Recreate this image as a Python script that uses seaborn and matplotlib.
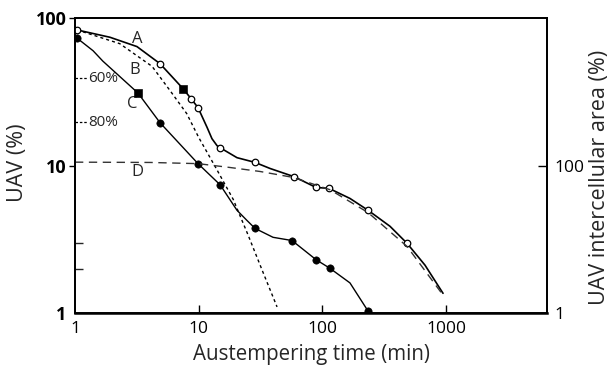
import matplotlib
matplotlib.use("Agg")
import matplotlib.pyplot as plt
import matplotlib.ticker as mticker
import seaborn as sns
import pandas as pd

sns.set_theme(style="ticks")
plt.rcParams["font.family"] = ["Open Sans", "DejaVu Sans"]

# curve A (open circles), smooth path
a_path_x = [1.04, 1.92, 3.17, 4.87, 7.47, 8.67, 9.87, 11.7, 12.8, 14.1, 14.9, 20.4, 28.5, 37.7,
            59, 88.8, 113, 167, 234, 352, 483, 675, 944]
a_path_y = [83, 74, 64, 49, 33.2, 28.4, 24.7, 18.1, 15.2, 13.6, 13.2, 11.3, 10.5, 9.55,
            8.4, 7.1, 7.0, 5.98, 4.97, 3.87, 2.97, 2.11, 1.36]
a_pts_x = [1.04, 4.87, 8.67, 9.87, 14.9, 28.5, 59, 88.8, 113, 234, 483]
a_pts_y = [83, 49, 28.4, 24.7, 13.2, 10.5, 8.4, 7.1, 7.0, 4.97, 2.97]

# curve B (short dashes)
b_x = [1.04, 2.3, 4.2, 5.9, 8.0, 10, 14, 19, 25, 33, 43]
b_y = [83, 67, 47, 32, 22.5, 15.5, 9.4, 5.9, 3.4, 1.9, 1.1]

# curve C (filled circles)
c_path_x = [1.04, 1.40, 1.68, 3.23, 4.87, 9.87, 14.9, 20.4, 24.5, 28.5, 39.9, 56.8, 88.8, 115, 167, 234]
c_path_y = [73, 60, 51, 31, 19.5, 10.3, 7.4, 4.97, 4.25, 3.75, 3.26, 3.1, 2.3, 2.01, 1.6, 1.03]
c_pts_x = [1.04, 4.87, 9.87, 14.9, 28.5, 56.8, 88.8, 115, 234]
c_pts_y = [73, 19.5, 10.3, 7.4, 3.75, 3.1, 2.3, 2.01, 1.03]

# filled squares (on A and C)
sq_x = [7.5, 3.23]
sq_y = [33, 31]

# curve D, right axis (intercellular area %)
d_x = [1, 4.04, 9.87, 17.9, 31.3, 57.9, 115, 234, 483, 944]
d_y = [111, 110, 106, 94, 83, 69, 47, 23, 8.0, 1.75]

# reduction marks on the left axis
red_levels = [39, 19.6]
red_labels = ["60%", "80%"]

curve_names = ["A", "B", "C", "D"]
curve_lx = [3.17, 3.06, 2.89, 3.17]
curve_ly = [72, 44.5, 26.2, 9.1]

fig, ax = plt.subplots(figsize=(6.11, 3.71), dpi=100)
fig.subplots_adjust(left=0.1227, right=0.8953, bottom=0.1563, top=0.9515)
ax2 = ax.twinx()

ax.set_xscale("log")
ax.set_yscale("log")
ax2.set_yscale("log")

sns.lineplot(x=a_path_x, y=a_path_y, sort=False, color="black", lw=1.2, ax=ax)
sns.lineplot(x=b_x, y=b_y, sort=False, color="black", lw=1.0, ax=ax, linestyle=(0, (2.2, 2.2)))
sns.lineplot(x=c_path_x, y=c_path_y, sort=False, color="black", lw=1.0, ax=ax)
sns.scatterplot(x=a_pts_x, y=a_pts_y, marker="o", s=22, facecolor="white",
                edgecolor="black", linewidth=0.9, ax=ax, zorder=5)
sns.scatterplot(x=c_pts_x, y=c_pts_y, marker="o", s=28, color="black",
                edgecolor="black", ax=ax, zorder=5)
sns.scatterplot(x=sq_x, y=sq_y, marker="s", s=32, color="black",
                edgecolor="black", ax=ax, zorder=5)

sns.lineplot(x=d_x, y=d_y, sort=False, color="#333333", lw=1.0, ax=ax2, linestyle=(0, (6, 4)))

ax.hlines(red_levels, 1, 1.27, colors="black", lw=0.9, linestyles=(0, (2, 1.5)))
for lv, lb in zip(red_levels, red_labels):
    ax.text(1.28, lv, lb, ha="left", va="center", fontsize=11)

for nm, lx, ly in zip(curve_names, curve_lx, curve_ly):
    ax.text(lx, ly, nm, ha="center", va="center", fontsize=12)

ax.set_xlim(1, 6540)
ax.set_ylim(1, 100)
ax2.set_ylim(1, 10000)

ax.xaxis.set_major_locator(mticker.FixedLocator([1, 10, 100, 1000]))
ax.xaxis.set_minor_locator(mticker.NullLocator())
ax.set_xticklabels(["1", "10", "100", "1000"])
ax.yaxis.set_major_locator(mticker.FixedLocator([1, 10, 100]))
ax.yaxis.set_minor_locator(mticker.FixedLocator([2, 3]))
ax.yaxis.set_minor_formatter(mticker.NullFormatter())
ax.set_yticklabels(["1", "10", "100"], fontweight="bold")
ax2.yaxis.set_major_locator(mticker.FixedLocator([1, 100]))
ax2.yaxis.set_minor_locator(mticker.NullLocator())
ax2.set_yticklabels(["1", "100"])

ax.tick_params(axis="x", which="major", direction="in", length=6, width=1.0,
               labelsize=12.5, pad=6, colors="black")
ax.tick_params(axis="y", which="major", direction="out", length=4, width=1.0,
               labelsize=13, pad=2, colors="black")
ax.tick_params(axis="y", which="minor", direction="in", length=6, width=1.0)
ax2.tick_params(axis="y", which="major", direction="in", length=6.5, width=1.0,
                labelsize=12.5, pad=5, colors="black")
ax.xaxis.get_major_ticks()[0].tick1line.set_visible(False)
ax.yaxis.get_major_ticks()[0].tick1line.set_visible(False)
ax2.yaxis.get_major_ticks()[0].tick2line.set_visible(False)

for a in (ax, ax2):
    for sp in a.spines.values():
        sp.set_visible(True)
        sp.set_color("black")
        sp.set_linewidth(1.3)
ax.spines["bottom"].set_linewidth(1.8)

ax.set_xlabel("Austempering time (min)", fontsize=14.8, labelpad=5)
ax.set_ylabel("UAV (%)", fontsize=15.5)
ax.yaxis.set_label_coords(-0.10, 0.51)
ax2.set_ylabel("UAV intercellular area (%)", fontsize=15.5, rotation=90)
ax2.yaxis.set_label_coords(1.088, 0.46)

fig.savefig("out.png", dpi=100)
